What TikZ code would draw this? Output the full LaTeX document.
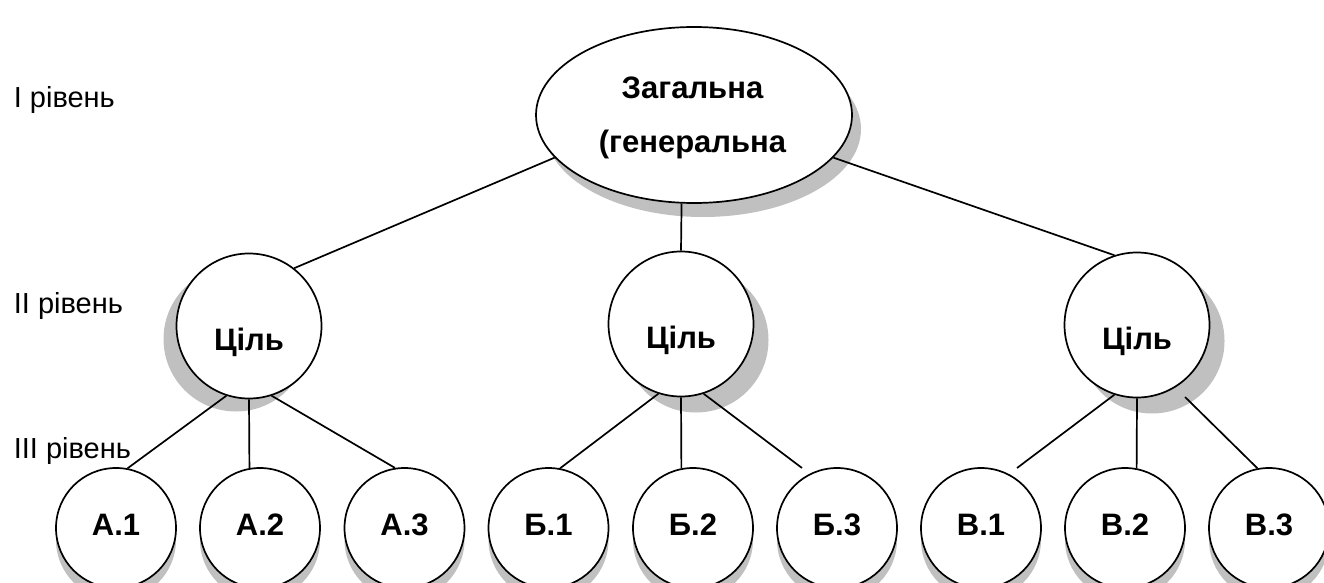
\documentclass[tikz,border=0pt]{standalone}
\usepackage{fontspec}
\setmainfont{Liberation Sans}
\usetikzlibrary{shapes.geometric,shadows}
\definecolor{shd}{RGB}{192,192,192}
\begin{document}
\begin{tikzpicture}[x=1pt,y=-1pt,line width=1.7pt,
  shleft/.style={general shadow={fill=shd,shadow xshift=-13pt,shadow yshift=-13pt}},
  shright/.style={general shadow={fill=shd,shadow xshift=15pt,shadow yshift=-16pt}},
  shdown/.style={general shadow={fill=shd,shadow xshift=0pt,shadow yshift=-12pt}},
  goal/.style={circle,draw,fill=white,minimum size=145pt,inner sep=0pt,
    font=\fontsize{31}{31}\selectfont\bfseries,text height=49pt,text depth=0pt},
  leaf/.style={circle,draw,fill=white,minimum size=120pt,inner sep=0pt,shdown,
    font=\fontsize{31}{31}\selectfont\bfseries,text height=14pt,text depth=0pt},
  lvl/.style={anchor=base west,inner sep=0pt,font=\fontsize{29}{29}\selectfont}]
\useasboundingbox (0,0) rectangle (1324,583);
% level labels
\node[lvl] (l1) at (13,107) {I рівень};
\node[lvl] (l2) at (13,313) {II рівень};
\node[lvl] (l3) at (13,458) {III рівень};
% top
\node[ellipse,draw,fill=white,minimum width=316pt,minimum height=176pt,inner sep=0pt,
  general shadow={fill=shd,shadow xshift=9pt,shadow yshift=-14pt}] (top) at (694,115) {};
\node[align=center,inner sep=0pt,font=\fontsize{31}{54}\selectfont\bfseries] (toptxt) at (692.5,118) {Загальна\\(генеральна};
% level II
\node[goal,shleft] (A) at (249,326) {Ціль};
\node[goal,shright] (B) at (681,324) {Ціль};
\node[goal,shright] (V) at (1137,325) {Ціль};
% level III
\node[leaf] (A1) at (116,528) {А.1};
\node[leaf] (A2) at (260,528) {А.2};
\node[leaf] (A3) at (404.5,528) {А.3};
\node[leaf] (B1) at (548.5,528) {Б.1};
\node[leaf] (B2) at (693,528) {Б.2};
\node[leaf] (B3) at (837,528) {Б.3};
\node[leaf] (V1) at (981,528) {В.1};
\node[leaf] (V2) at (1125,528) {В.2};
\node[leaf] (V3) at (1269,528) {В.3};
% free ends
\coordinate (b3e) at (802,468);
\coordinate (v1e) at (1017,468);
\coordinate (v3s) at (1185,397);
% connectors
\draw (top.197.4) -- (A.52);
\draw (top.-98) -- (B.north);
\draw (top.-17.5) -- (V.108);
\draw (A.252) -- (A1.79);
\draw (A.south) -- (A2.100);
\draw (A.-72) -- (A3.99);
\draw (B.252) -- (B1.79);
\draw (B.south) -- (B2.101);
\draw (B.-72) -- (b3e);
\draw (V.252) -- (v1e);
\draw (V.south) -- (V2.79);
\draw (v3s) -- (V3.101);
\end{tikzpicture}
\end{document}
